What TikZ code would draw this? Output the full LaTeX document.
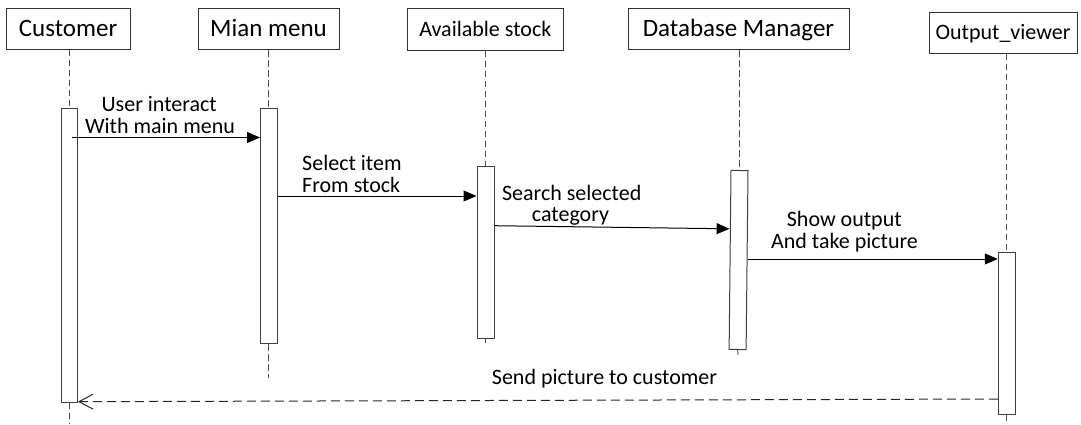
\documentclass[tikz,border=0pt]{standalone}
\usepackage{fontspec}
\setmainfont{Carlito}
\usetikzlibrary{arrows.meta}

\begin{document}
\begin{tikzpicture}[x=1pt,y=-1pt,
  actor/.style={draw=black!80, line width=1pt, inner sep=0pt, minimum height=41pt,
                font=\fontsize{25}{30}\selectfont, text height=15.8pt, text depth=0pt},
  smallactor/.style={actor, font=\fontsize{22}{26}\selectfont, text height=13.9pt},
  actbar/.style={draw=black!75, fill=white, line width=1pt, inner sep=0pt,
                 minimum width=16.5pt, anchor=north},
  life/.style={draw=black!70, line width=0.9pt, dash pattern=on 6.5pt off 3.5pt},
  msg/.style={draw=black, line width=1pt, -{Triangle[length=13pt,width=11pt]}},
  reply/.style={draw=black!85, line width=1pt, dash pattern=on 9pt off 5pt,
                -{Straight Barb[length=14pt,width=15pt]}},
  lbl/.style={font=\fontsize{22}{22}\selectfont, inner sep=0pt, anchor=base},
  lblw/.style={lbl, anchor=base west}]

\useasboundingbox (0,0) rectangle (1081,424);

% participants
\node[actor, minimum width=124pt] (cust) at (68,28.5) {Customer};
\node[actor, minimum width=141pt] (mian) at (268.5,29) {Mian menu};
\node[smallactor, minimum width=156pt, minimum height=41.7pt] (avail) at (485.3,29.2) {Available stock};
\node[actor, minimum width=221pt, minimum height=41.5pt] (dbm) at (738.5,29) {Database Manager};
\node[smallactor, minimum width=148pt] (outv) at (1003,32.5) {Output\_viewer};

% activation bars
\node[actbar, minimum height=293.7pt] (aC) at (69.25,108) {};
\node[actbar, minimum height=235pt] (aM) at (268.75,108) {};
\node[actbar, minimum width=17pt, minimum height=172pt] (aA) at (485.5,166) {};
\node[actbar, minimum width=17pt, minimum height=179pt, rotate=-0.6] (aD) at (739.5,170) {};
\node[actbar, minimum width=17pt, minimum height=161.4pt] (aO) at (1006.75,252.3) {};

% lifeline ends
\coordinate (cEnd) at (69.25,424);
\coordinate (mEnd) at (268.75,378);
\coordinate (aEnd) at (485.5,342.7);
\coordinate (dEnd) at (738,355);
\coordinate (oEnd) at (1006.75,424);

% lifelines
\draw[life] (aC.north |- cust.south) -- (aC.north);
\draw[life] (aC.south) -- (cEnd);
\draw[life] (aM.north |- mian.south) -- (aM.north);
\draw[life] (aM.south) -- (mEnd);
\draw[life] (aA.north |- avail.south) -- (aA.north);
\draw[life] (aA.south) -- (aEnd);
\draw[life] (aD.north |- dbm.south) -- (aD.north);
\draw[life] (aD.south) -- (dEnd);
\draw[life] (aO.north |- outv.south) -- (aO.north);
\draw[life] (aO.south) -- (oEnd);

% message heights
\coordinate (m1s) at (72,137.5);
\coordinate (y2) at (0,196);
\coordinate (y3a) at (0,225.7);
\coordinate (y3b) at (0,228.8);
\coordinate (y4) at (0,259);
\coordinate (y5a) at (0,399);
\coordinate (y5b) at (0,401.7);

% messages
\draw[msg] (m1s) -- (aM.west |- m1s);
\draw[msg] (aM.east |- y2) -- (aA.west |- y2);
\draw[msg] (aA.east |- y3a) -- (aD.west |- y3b);
\draw[msg] (aD.east |- y4) -- (aO.west |- y4);
\draw[reply] (aO.west |- y5a) -- (aC.east |- y5b);

% message labels
\node[lbl] (l1a) at (159.2,111) {User interact};
\node[lbl] (l1b) at (160,133.3) {With main menu};
\node[lblw] (l2a) at (302,170) {Select item};
\node[lblw] (l2b) at (302,192.5) {From stock};
\node[lbl] (l3a) at (571.7,200) {Search selected};
\node[lbl] (l3b) at (570.5,221.7) {category};
\node[lbl] (l4a) at (844.3,226.7) {Show output};
\node[lbl] (l4b) at (844.5,248.3) {And take picture};
\node[lbl] (l5) at (604.5,384.3) {Send picture to customer};
\end{tikzpicture}
\end{document}
